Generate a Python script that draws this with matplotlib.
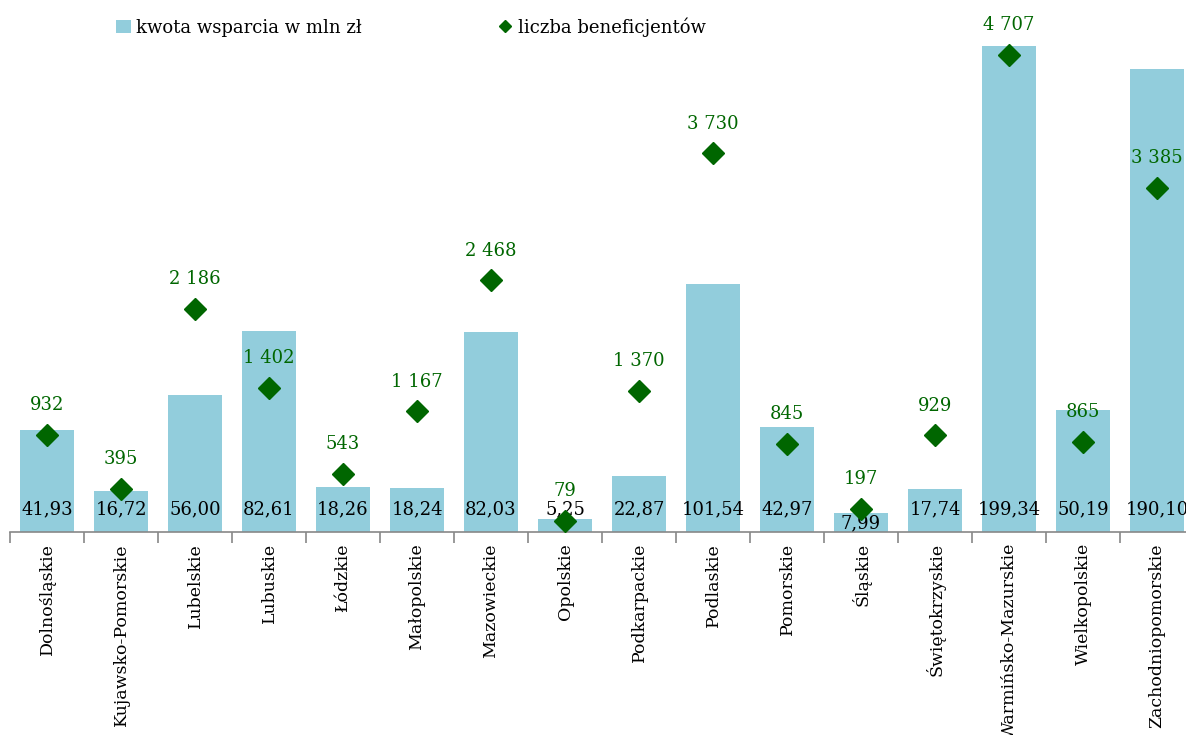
import matplotlib.pyplot as plt
from matplotlib.lines import Line2D
from matplotlib.patches import Patch
import numpy as np

regions = ["Dolnośląskie", "Kujawsko-Pomorskie", "Lubelskie", "Lubuskie", "Łódzkie",
           "Małopolskie", "Mazowieckie", "Opolskie", "Podkarpackie", "Podlaskie",
           "Pomorskie", "Śląskie", "Świętokrzyskie", "Warmińsko-Mazurskie",
           "Wielkopolskie", "Zachodniopomorskie"]
kwota = [41.93, 16.72, 56.00, 82.61, 18.26, 18.24, 82.03, 5.25, 22.87, 101.54,
         42.97, 7.99, 17.74, 199.34, 50.19, 190.10]
beneficjenci = [932, 395, 2186, 1402, 543, 1167, 2468, 79, 1370, 3730,
                845, 197, 929, 4707, 865, 3385]

bar_color = "#92CDDC"
green = "#006600"

plt.rcParams["font.family"] = ["DejaVu Serif"]

fig = plt.figure(figsize=(11.86, 7.35), dpi=100)
W, H = 1186, 735
# axes: left edge at x=10 px, bottom at y=532 px, one category = 74 px
ax = fig.add_axes([10 / W, (H - 532) / H, 74 * 16 / W, 532 / H])
x = np.arange(len(regions))
ax.bar(x, kwota, width=0.72, color=bar_color, zorder=1)
ax.set_xlim(-0.5, len(regions) - 0.5)
ax.set_ylim(0, 218.2)

for s in ["top", "right", "left"]:
    ax.spines[s].set_visible(False)
ax.spines["bottom"].set_color("#888888")
ax.spines["bottom"].set_linewidth(1.2)
ax.set_yticks([])
ax.set_xticks(x)
ax.set_xticklabels(regions, rotation=90, fontsize=12.5)
ax.tick_params(axis="x", which="major", length=0, pad=8)
ax.set_xticks(np.arange(-0.5, len(regions), 1), minor=True)
ax.tick_params(axis="x", which="minor", length=8, color="#888888", width=1.2)

for i, v in enumerate(kwota):
    txt = f"{v:.2f}".replace(".", ",")
    y_off = 0 if regions[i] == "Śląskie" else 10
    ax.annotate(txt, (i, 0), xytext=(0, y_off), textcoords="offset points",
                ha="center", va="bottom", fontsize=13, color="black", zorder=3)

ax2 = ax.twinx()
ax2.set_ylim(-30, 5254)
ax2.plot(x, beneficjenci, linestyle="none", marker="D", markersize=11,
         color=green, zorder=4)
ax2.axis("off")
for i, v in enumerate(beneficjenci):
    txt = f"{v:,}".replace(",", " ")
    ax2.annotate(txt, (i, v), xytext=(0, 15), textcoords="offset points",
                 ha="center", va="bottom", fontsize=13, color=green)

handles = [Patch(facecolor=bar_color, edgecolor="none"),
           Line2D([], [], linestyle="none", marker="D", markersize=6, color=green)]
fig.legend(handles, ["kwota wsparcia w mln zł", "liczba beneficjentów"],
           loc="center left", bbox_to_anchor=(100 / W, 1 - 27 / H), ncol=2,
           frameon=False, fontsize=13, handlelength=0.8, handletextpad=0.3,
           columnspacing=7.55)

fig.savefig("out.png", dpi=100)
